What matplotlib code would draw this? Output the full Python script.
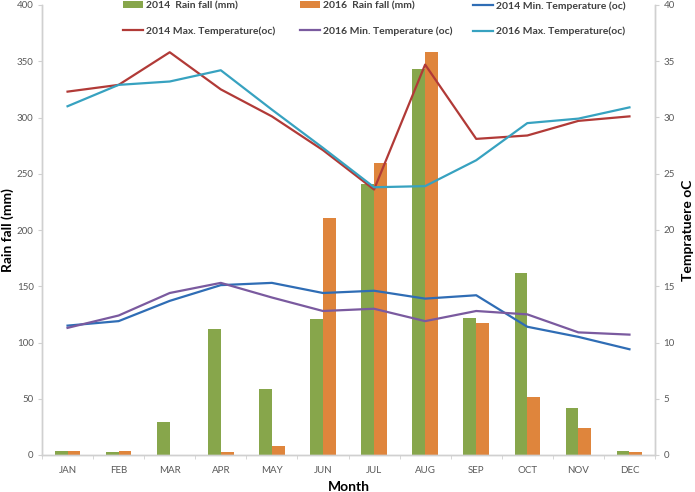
import matplotlib
matplotlib.use('Agg')
import matplotlib.pyplot as plt
import numpy as np

plt.rcParams['font.family'] = ['Lato', 'DejaVu Sans']

months = ['JAN', 'FEB', 'MAR', 'APR', 'MAY', 'JUN', 'JUL', 'AUG', 'SEP', 'OCT', 'NOV', 'DEC']

rain_2014 = [3.6, 2.7, 29, 112, 59, 121, 241, 343, 121.5, 162, 42, 3.6]
rain_2016 = [3.9, 3.9, 0, 3, 7.7, 210.5, 260, 358, 117.5, 51.3, 23.7, 3]

min_2014 = [11.5, 11.9, 13.7, 15.1, 15.3, 14.4, 14.6, 13.9, 14.2, 11.4, 10.5, 9.4]
max_2014 = [32.3, 32.9, 35.8, 32.5, 30.1, 27.1, 23.6, 34.7, 28.1, 28.4, 29.7, 30.1]
min_2016 = [11.3, 12.4, 14.4, 15.3, 14.0, 12.8, 13.0, 11.9, 12.8, 12.5, 10.9, 10.7]
max_2016 = [31.0, 32.9, 33.2, 34.2, 30.7, 27.3, 23.8, 23.9, 26.2, 29.5, 29.9, 30.9]

green = '#87a64b'
orange = '#df853c'
c_min14 = '#2f6db5'
c_max14 = '#b13a37'
c_min16 = '#7a5a9f'
c_max16 = '#37a2c0'
grey_txt = '#595959'
spine_c = '#d0d0d0'

fig = plt.figure(figsize=(6.95, 4.92), dpi=100)
ax = fig.add_axes([42 / 695, 37 / 492, 613 / 695, 450 / 492])
ax2 = ax.twinx()

x = np.arange(len(months))
w = 0.25
b1 = ax.bar(x - w / 2, rain_2014, w, color=green, label='2014  Rain fall (mm)')
b2 = ax.bar(x + w / 2, rain_2016, w, color=orange, label='2016  Rain fall (mm)')

lw = 1.6
l1, = ax2.plot(x, min_2014, color=c_min14, lw=lw, label='2014 Min. Temperature (oc)')
l2, = ax2.plot(x, max_2014, color=c_max14, lw=lw, label='2014 Max. Temperature(oc)')
l3, = ax2.plot(x, min_2016, color=c_min16, lw=lw, label='2016 Min. Temperature (oc)')
l4, = ax2.plot(x, max_2016, color=c_max16, lw=lw, label='2016 Max. Temperature(oc)')

ax.set_xlim(-0.5, len(months) - 0.5)
ax.set_ylim(0, 400)
ax2.set_ylim(0, 40)
ax.set_yticks(np.arange(0, 401, 50))
ax2.set_yticks(np.arange(0, 41, 5))

ax.set_xticks(x)
ax.set_xticklabels(months)
ax.set_xticks(np.arange(-0.5, len(months), 1), minor=True)
ax.tick_params(axis='x', which='major', length=0, pad=8, labelsize=7, colors=grey_txt)
ax.tick_params(axis='x', which='minor', length=3, color=spine_c)
ax.tick_params(axis='y', length=3, color=spine_c, labelsize=7, labelcolor=grey_txt, pad=3)
ax2.tick_params(axis='y', length=3, color=spine_c, labelsize=7, labelcolor=grey_txt, pad=3)

for a in (ax, ax2):
    a.spines['top'].set_visible(False)
    for s in ('left', 'right', 'bottom'):
        a.spines[s].set_color(spine_c)
        a.spines[s].set_linewidth(1.0)

ax.set_ylabel('Rain fall (mm)', fontsize=10, fontweight='bold')
ax.yaxis.set_label_coords((14 - 42) / 613, 0.5)
ax2.set_ylabel('Tempratuere oC', fontsize=10, fontweight='bold')
ax2.yaxis.set_label_coords((682 - 42) / 613, 0.5)
ax.set_xlabel('Month', fontsize=10, fontweight='bold', labelpad=4)

# legend: one small legend per column so each column sits where the reference has it
columns = [([b1, l2], 123), ([b2, l3], 300), ([l1, l4], 473)]
for hs, xpix in columns:
    leg = fig.legend(hs, [h.get_label() for h in hs], loc='upper left',
                     bbox_to_anchor=(xpix / 695, 1.0 - 1 / 492), bbox_transform=fig.transFigure,
                     frameon=False, fontsize=7.5, borderpad=0.0, borderaxespad=0.0,
                     handlelength=1.9, handleheight=0.6, handletextpad=0.3,
                     labelspacing=1.55)
    for t in leg.get_texts():
        t.set_fontweight('bold')
        t.set_color('#404040')

fig.savefig('out.png', dpi=100)
